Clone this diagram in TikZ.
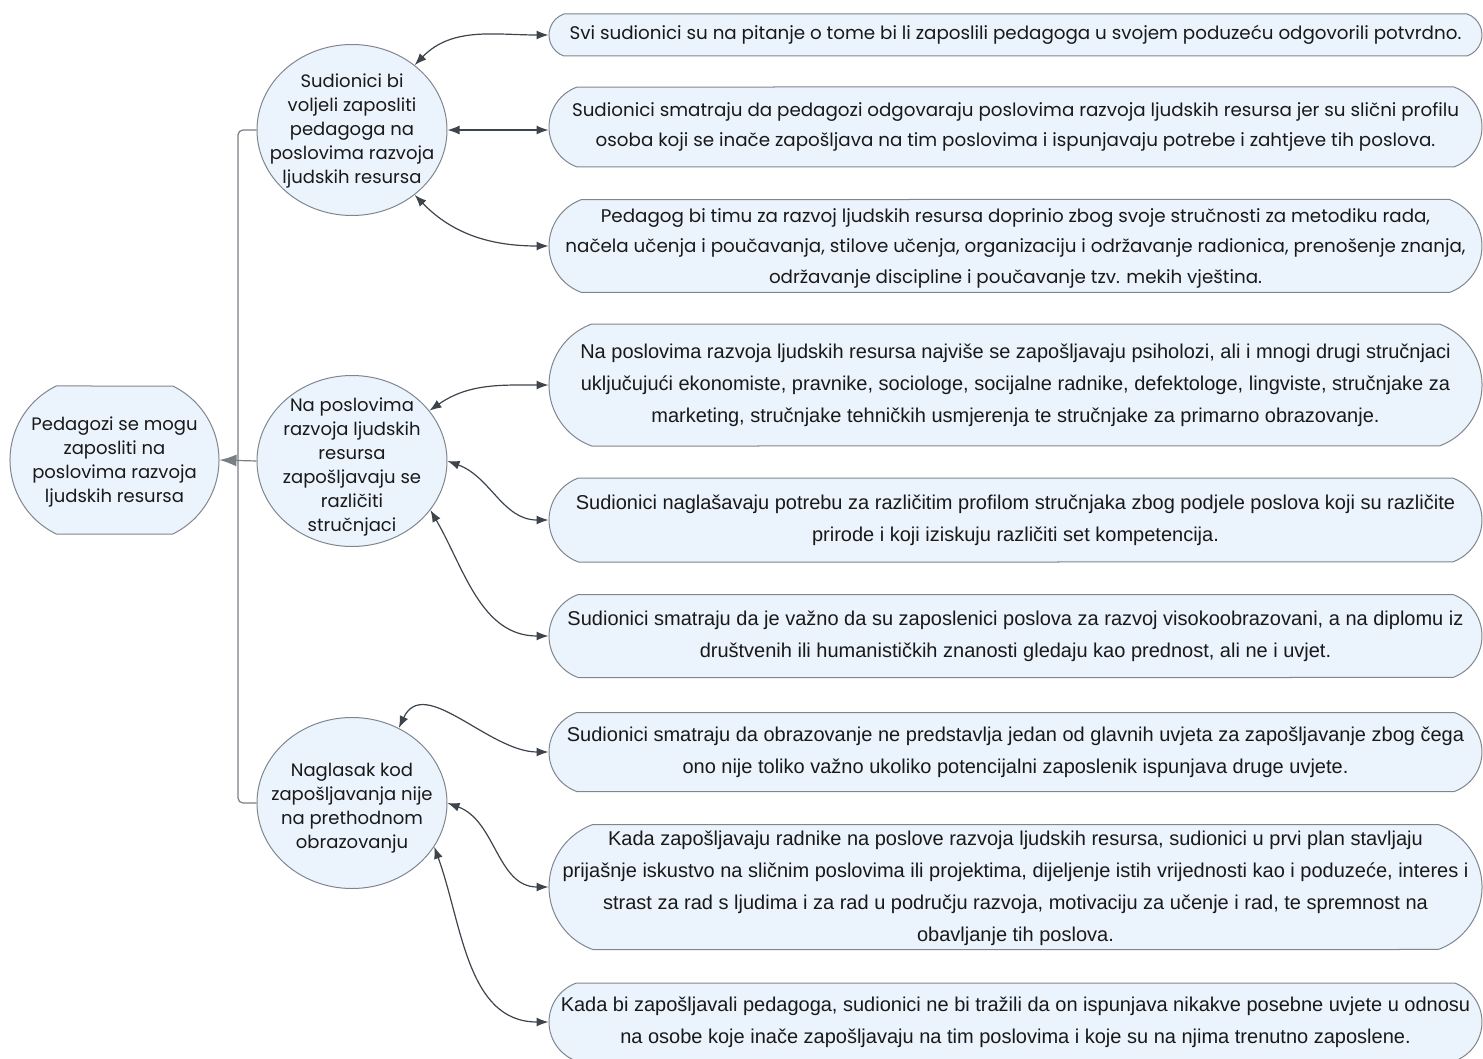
\documentclass[tikz,border=0pt]{standalone}
\usepackage{fontspec}
\setmainfont{Liberation Sans}
\newfontfamily\geo{Poppins}
\usetikzlibrary{shapes.misc,shapes.geometric,arrows.meta}
\definecolor{boxfill}{RGB}{235,243,253}
\definecolor{boxline}{RGB}{128,134,142}
\definecolor{arr}{RGB}{62,68,76}
\definecolor{treeline}{RGB}{120,126,133}
\definecolor{txt}{RGB}{25,25,25}
\begin{document}
\begin{tikzpicture}[x=1pt,y=1pt,
 pill/.style={rounded rectangle, rounded rectangle arc length=140, draw=boxline, fill=boxfill, line width=1pt, minimum width=933pt, inner sep=0pt},
 geotext/.style={align=center, text=txt, inner sep=0pt, font=\geo\fontsize{18.3}{30.5}\selectfont},
 sanstext/.style={align=center, text=txt, inner sep=0pt, font=\fontsize{20}{32}\selectfont},
 bubble/.style={ellipse, draw=boxline, fill=boxfill, line width=1pt, minimum width=190pt, minimum height=171pt, inner sep=0pt},
 rootbox/.style={rounded rectangle, rounded rectangle arc length=128, draw=boxline, fill=boxfill, line width=1pt, minimum width=209pt, minimum height=148pt, inner sep=0pt},
 bubtext/.style={align=center, text=txt, inner sep=0pt, font=\geo\fontsize{18}{24}\selectfont},
 link/.style={draw=arr, line width=1.2pt, {Latex[length=12pt,width=9pt]}-{Latex[length=12pt,width=9pt]}},
 tree/.style={draw=treeline, line width=1.2pt, rounded corners=5pt},
]
\useasboundingbox (0,0) rectangle (1483,-1059);
\coordinate (spine) at (238,0);

\node[rootbox] (root) at (114.5,-460) {};
\node[bubtext] (roott) at (114.5,-462) {Pedagozi se mogu\\zaposliti na\\poslovima razvoja\\ljudskih resursa};

\node[bubble] (c1) at (352,-130) {};
\node[bubtext] (c1t) at (352,-131) {Sudionici bi\\voljeli zaposliti\\pedagoga na\\poslovima razvoja\\ljudskih resursa};
\node[bubble] (c2) at (352,-461) {};
\node[bubtext] (c2t) at (352,-467) {Na poslovima\\razvoja ljudskih\\resursa\\zapošljavaju se\\različiti\\stručnjaci};
\node[bubble] (c3) at (352,-803) {};
\node[bubtext] (c3t) at (352,-808) {Naglasak kod\\zapošljavanja nije\\na prethodnom\\obrazovanju};

\node[pill, minimum height=42pt] (b1) at (1015.5,-35) {};
\node[geotext] (b1t) at (b1) {Svi sudionici su na pitanje o tome bi li zaposlili pedagoga u svojem poduzeću odgovorili potvrdno.};
\node[pill, minimum height=80pt] (b2) at (1015.5,-127) {};
\node[geotext] (b2t) at (b2) {Sudionici smatraju da pedagozi odgovaraju poslovima razvoja ljudskih resursa jer su slični profilu\\osoba koji se inače zapošljava na tim poslovima i ispunjavaju potrebe i zahtjeve tih poslova.};
\node[pill, minimum height=93pt] (b3) at (1015.5,-246) {};
\node[geotext] (b3t) at (1015.5,-248) {Pedagog bi timu za razvoj ljudskih resursa doprinio zbog svoje stručnosti za metodiku rada,\\načela učenja i poučavanja, stilove učenja, organizaciju i održavanje radionica, prenošenje znanja,\\održavanje discipline i poučavanje tzv. mekih vještina.};

\node[pill, minimum height=122pt] (b4) at (1015.5,-385) {};
\node[sanstext] (b4t) at (b4) {Na poslovima razvoja ljudskih resursa najviše se zapošljavaju psiholozi, ali i mnogi drugi stručnjaci\\uključujući ekonomiste, pravnike, sociologe, socijalne radnike, defektologe, lingviste, stručnjake za\\marketing, stručnjake tehničkih usmjerenja te stručnjake za primarno obrazovanje.};
\node[pill, minimum height=84pt] (b5) at (1015.5,-520) {};
\node[sanstext] (b5t) at (b5) {Sudionici naglašavaju potrebu za različitim profilom stručnjaka zbog podjele poslova koji su različite\\prirode i koji iziskuju različiti set kompetencija.};
\node[pill, minimum height=83pt] (b6) at (1015.5,-636) {};
\node[sanstext] (b6t) at (b6) {Sudionici smatraju da je važno da su zaposlenici poslova za razvoj visokoobrazovani, a na diplomu iz\\društvenih ili humanističkih znanosti gledaju kao prednost, ali ne i uvjet.};

\node[pill, minimum height=79pt] (b7) at (1015.5,-752) {};
\node[sanstext] (b7t) at (b7) {Sudionici smatraju da obrazovanje ne predstavlja jedan od glavnih uvjeta za zapošljavanje zbog čega\\ono nije toliko važno ukoliko potencijalni zaposlenik ispunjava druge uvjete.};
\node[pill, minimum height=125pt] (b8) at (1015.5,-887) {};
\node[sanstext] (b8t) at (1015.5,-888) {Kada zapošljavaju radnike na poslove razvoja ljudskih resursa, sudionici u prvi plan stavljaju\\prijašnje iskustvo na sličnim poslovima ili projektima, dijeljenje istih vrijednosti kao i poduzeće, interes i\\strast za rad s ljudima i za rad u području razvoja, motivaciju za učenje i rad, te spremnost na\\obavljanje tih poslova.};
\node[pill, minimum height=78pt] (b9) at (1015.5,-1022) {};
\node[sanstext] (b9t) at (b9) {Kada bi zapošljavali pedagoga, sudionici ne bi tražili da on ispunjava nikakve posebne uvjete u odnosu\\na osobe koje inače zapošljavaju na tim poslovima i koje su na njima trenutno zaposlene.};

% tree
\draw[tree] (c1.west) -- (c1.west -| spine) -- (c3.west -| spine) -- (c3.west);
\draw[draw=treeline, line width=1.2pt, -{Latex[length=17pt,width=12pt]}] (c2.west) -- (root.east);

% links
\draw[link] (c1.46) to[out=46,in=180] (b1.west);
\draw[link] (c1.east) -- (c1.east -| b2.west);
\draw[link] (c1.-46) to[out=-46,in=180] (b3.west);
\draw[link] (c2.33) to[out=35,in=180] (b4.west);
\draw[link] (c2.east) to[out=-20,in=180] (b5.west);
\draw[link] (c2.-32) to[out=-60,in=180] (b6.west);
\draw[link] (c3.58) to[out=65,in=180] (b7.west);
\draw[link] (c3.east) to[out=-20,in=180] (b8.west);
\draw[link] (c3.-28) to[out=-70,in=180] (b9.west);
\end{tikzpicture}
\end{document}
